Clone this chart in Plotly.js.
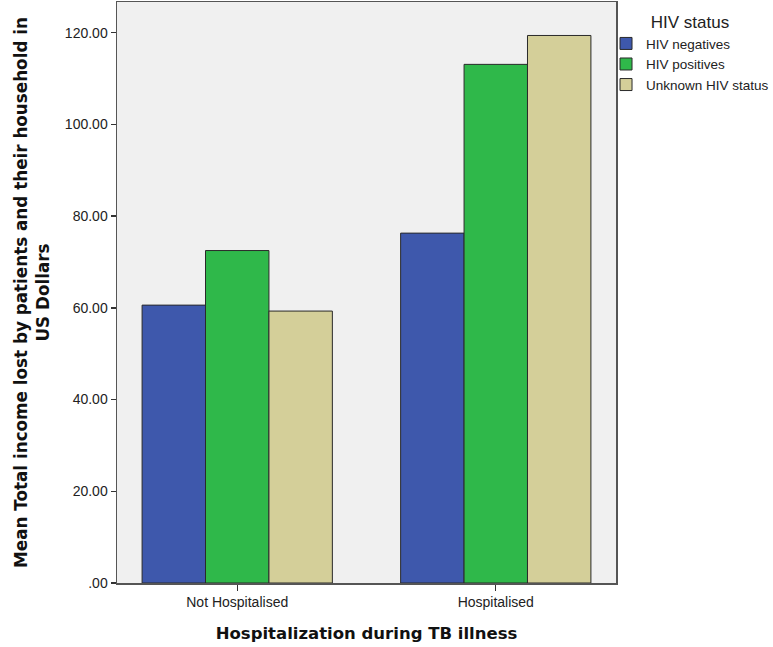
<!DOCTYPE html>
<html>
<head>
<meta charset="utf-8">
<script src="https://cdn.plot.ly/plotly-3.0.1.min.js"></script>
<style>html,body{margin:0;padding:0;background:#fff;}#chart{width:773px;height:647px;}</style>
</head>
<body>
<div id="chart"></div>
<script>
const categories = ["Not Hospitalised", "Hospitalised"];
const seriesNames = ["HIV negatives", "HIV positives", "Unknown HIV status"];
const hivNegatives = [60.6, 76.3];
const hivPositives = [72.5, 113.1];
const unknownStatus = [59.3, 119.4];
const yTickVals = [0, 20, 40, 60, 80, 100, 120];
const yTickText = [".00", "20.00", "40.00", "60.00", "80.00", "100.00", "120.00"];

const colors = ["#3e58ac", "#2fb84a", "#d4cf99"];
const seriesValues = [hivNegatives, hivPositives, unknownStatus];

const traces = seriesValues.map((vals, i) => ({
  type: "bar",
  x: categories,
  y: vals,
  name: seriesNames[i],
  marker: {color: colors[i], line: {color: "#2a2a2a", width: 1}},
  hoverinfo: "none"
}));

const layout = {
  width: 773, height: 647,
  margin: {l: 117, r: 157, t: 2, b: 64, autoexpand: false},
  paper_bgcolor: "#ffffff",
  plot_bgcolor: "#f0f0f0",
  barmode: "group",
  bargap: 0.264,
  bargroupgap: 0,
  font: {family: "Liberation Sans, Arial, sans-serif", size: 14, color: "#222"},
  xaxis: {
    type: "category",
    range: [-0.465, 1.465],
    showgrid: false, zeroline: false,
    showline: true, mirror: true, linecolor: "#555", linewidth: 1.5,
    ticks: "outside", ticklen: 6, tickcolor: "#333", tickwidth: 1,
    tickfont: {family: "Liberation Sans, Arial, sans-serif", size: 14, color: "#222"},
    title: {text: "Hospitalization during TB illness", font: {family: "DejaVu Sans, sans-serif", size: 16.5, color: "#111", weight: "bold"}, standoff: 18}
  },
  yaxis: {
    range: [0, 126.7],
    tickvals: yTickVals, ticktext: yTickText,
    showgrid: false, zeroline: false,
    showline: true, mirror: true, linecolor: "#555", linewidth: 1.5,
    ticks: "outside", ticklen: 5, tickcolor: "#333", tickwidth: 1.5,
    tickfont: {family: "Liberation Sans, Arial, sans-serif", size: 14, color: "#222"},
    title: {text: "<b>Mean Total income lost by patients and their household in<br>US Dollars</b>", font: {family: "DejaVu Sans, sans-serif", size: 16.8, color: "#111"}, standoff: 11}
  },
  legend: {
    x: 0.98, xanchor: "left", y: 0.993, yanchor: "top",
    bgcolor: "rgba(0,0,0,0)",
    font: {family: "Liberation Sans, Arial, sans-serif", size: 13.5, color: "#222"},
    title: {text: "HIV status", side: "top center", font: {family: "Liberation Sans, Arial, sans-serif", size: 17, color: "#222"}},
    itemwidth: 30, tracegroupgap: 0
  },
  showlegend: true
};

Plotly.newPlot("chart", traces, layout, {displayModeBar: false, staticPlot: true});
</script>
</body>
</html>
